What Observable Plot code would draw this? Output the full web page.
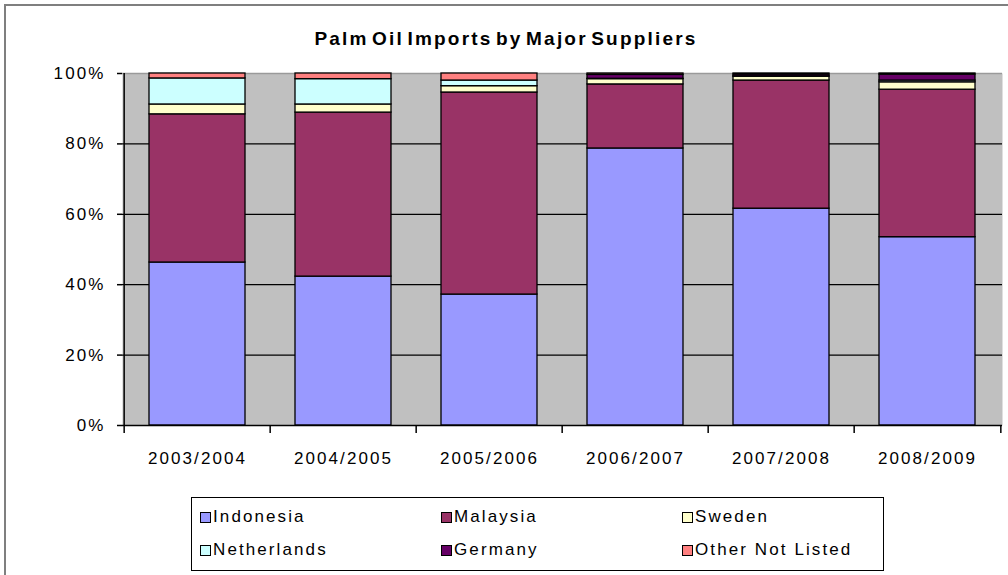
<!DOCTYPE html>
<html>
<head>
<meta charset="utf-8">
<script src="https://cdn.jsdelivr.net/npm/d3@7"></script>
<script src="https://cdn.jsdelivr.net/npm/@observablehq/plot@0.6"></script>
<style>
  html, body { margin: 0; padding: 0; background: #fff; }
  #wrap { position: relative; width: 1008px; height: 575px; overflow: hidden; font-family: "Liberation Sans", Arial, sans-serif; }
  #border { position: absolute; left: 4px; top: 4px; width: 1020px; height: 600px; border: 2px solid #7f7f7f; box-sizing: border-box; }
  #title { position: absolute; left: 0; width: 1012px; top: 28px; text-align: center; font-weight: bold; font-size: 19px; letter-spacing: 2.2px; word-spacing: -4px; }
  #chart { position: absolute; left: 0; top: 0; }
  #legend { position: absolute; left: 191px; top: 497px; width: 693px; height: 74px; border: 1px solid #000; box-sizing: border-box; }
  .item { position: absolute; display: flex; align-items: center; font-size: 17px; letter-spacing: 2.1px; white-space: nowrap; }
  .sw { width: 9px; height: 9px; border: 1px solid #000; margin-right: 2px; }
</style>
</head>
<body>
<div id="wrap">
  <div id="border"></div>
  <div id="title">Palm Oil Imports by Major Suppliers</div>
  <div id="chart"></div>
  <div id="legend"></div>
</div>
<script>
const years = ["2003/2004", "2004/2005", "2005/2006", "2006/2007", "2007/2008", "2008/2009"];
const series = ["Indonesia", "Malaysia", "Sweden", "Netherlands", "Germany", "Other Not Listed"];
const colors = ["#9999FF", "#993366", "#FFFFCC", "#CCFFFF", "#660066", "#FF8080"];
const indonesia   = [46.3, 42.3, 37.2, 78.7, 61.6, 53.5];
const malaysia    = [42.1, 46.6, 57.4, 18.2, 36.4, 41.9];
const sweden      = [2.8, 2.3, 1.8, 1.5, 1.1, 2.1];
const netherlands = [7.4, 7.2, 1.6, 0.1, 0.1, 0.5];
const germany     = [0.0, 0.0, 0.0, 1.1, 0.5, 1.7];
const other       = [1.4, 1.6, 2.0, 0.4, 0.3, 0.3];
const yTicks = [0, 20, 40, 60, 80, 100];

const seriesValues = [indonesia, malaysia, sweden, netherlands, germany, other];
const data = years.flatMap((yr, i) => series.map((s, j) => ({year: yr, series: s, value: seriesValues[j][i]})));

const W = 1008, H = 478, mL = 122, mR = 6, mT = 73, mB = 53;
const step = (W - mL - mR) / years.length;

const chart = Plot.plot({
  width: W, height: H,
  marginTop: mT, marginBottom: mB, marginLeft: mL, marginRight: mR,
  style: {fontFamily: "'Liberation Sans', Arial, sans-serif", fontSize: "17px", color: "#000", background: "transparent", overflow: "visible"},
  x: {domain: years, paddingInner: 0.34, paddingOuter: 0.17, label: null},
  y: {domain: [0, 100], label: null},
  color: {domain: series, range: colors},
  marks: [
    Plot.frame({fill: "#c0c0c0", stroke: null}),
    Plot.ruleY(yTicks.filter(t => t > 0 && t < 100), {stroke: "#000", strokeWidth: 1.2}),
    Plot.ruleY([100], {stroke: "#9a9a9a", strokeWidth: 1.5}),
    Plot.barY(data, {x: "year", y: "value", fill: "series", stroke: "#000", strokeWidth: 1.3, order: series}),
    Plot.ruleY([0], {stroke: "#000", strokeWidth: 1.5}),
    Plot.ruleX([years[0]], {dx: -step / 2, stroke: "#000", strokeWidth: 1.5}),
    Plot.axisY({ticks: yTicks, tickFormat: d => d + "%", tickSize: 5, tickPadding: 12, label: null, strokeWidth: 1.5}),
    Plot.axisX({tickSize: 0, tickPadding: 26, label: null}),
    Plot.axisX({tickSize: 8, tickFormat: () => "", dx: -step / 2, strokeWidth: 1.5, label: null}),
    Plot.axisX({ticks: [years[years.length - 1]], tickSize: 8, tickFormat: () => "", dx: step / 2, strokeWidth: 1.5, label: null})
  ]
});
chart.querySelectorAll("text").forEach(t => t.style.letterSpacing = "2.1px");
document.getElementById("chart").appendChild(chart);

const legend = document.getElementById("legend");
series.forEach((s, i) => {
  const col = i % 3, row = Math.floor(i / 3);
  const el = document.createElement("div");
  el.className = "item";
  el.style.left = (8 + col * 241) + "px";
  el.style.top = (9 + row * 33) + "px";
  const sw = document.createElement("div");
  sw.className = "sw";
  sw.style.background = colors[i];
  const tx = document.createElement("span");
  tx.textContent = s;
  el.appendChild(sw); el.appendChild(tx);
  legend.appendChild(el);
});
</script>
</body>
</html>
